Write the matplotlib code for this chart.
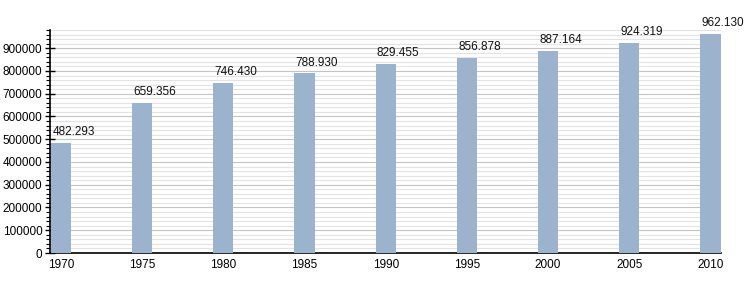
import matplotlib
matplotlib.use("Agg")
import matplotlib.pyplot as plt
from matplotlib.ticker import MultipleLocator

years = ["1970", "1975", "1980", "1985", "1990", "1995", "2000", "2005", "2010"]
population = [482293, 659356, 746430, 788930, 829455, 856878, 887164, 924319, 962130]
value_labels = ["482.293", "659.356", "746.430", "788.930", "829.455",
                "856.878", "887.164", "924.319", "962.130"]

plt.rcParams['font.family'] = ['Liberation Sans', 'DejaVu Sans']

fig = plt.figure(figsize=(7.5, 3.03), dpi=100)
ax = fig.add_axes([50/750, 50/303, 671/750, 223/303])

x = list(range(len(years)))
bw = 0.25
ax.bar(x, population, width=bw, color="#9bb3cd", zorder=3)

for xi, v, lab in zip(x, population, value_labels):
    ax.annotate(lab, (xi - bw/2, v), xytext=(1, 3.5), textcoords="offset points",
                ha="left", va="bottom", fontsize=8.5, color="#111111")

ax.set_xlim(-0.135, 8.13)
ax.set_ylim(0, 980000)
ax.set_xticks(x)
ax.set_xticklabels(years, fontsize=8.5)
ax.yaxis.set_major_locator(MultipleLocator(100000))
ax.yaxis.set_minor_locator(MultipleLocator(20000))
ax.tick_params(axis='y', which='major', direction='inout', length=7, width=1, labelsize=8.5, pad=2)
ax.tick_params(axis='y', which='minor', direction='out', length=3, width=0.8)
ax.tick_params(axis='x', length=0, pad=4, labelsize=8.5)

ax.grid(axis='y', which='major', color="#c4c4c4", linewidth=0.8, zorder=0)
ax.grid(axis='y', which='minor', color="#e3e3e3", linewidth=0.8, zorder=0)
ax.set_axisbelow(True)

for s in ['top', 'right']:
    ax.spines[s].set_visible(False)
ax.spines['left'].set_linewidth(1.2)
ax.spines['bottom'].set_linewidth(1.2)

fig.savefig("out.png", dpi=100)
